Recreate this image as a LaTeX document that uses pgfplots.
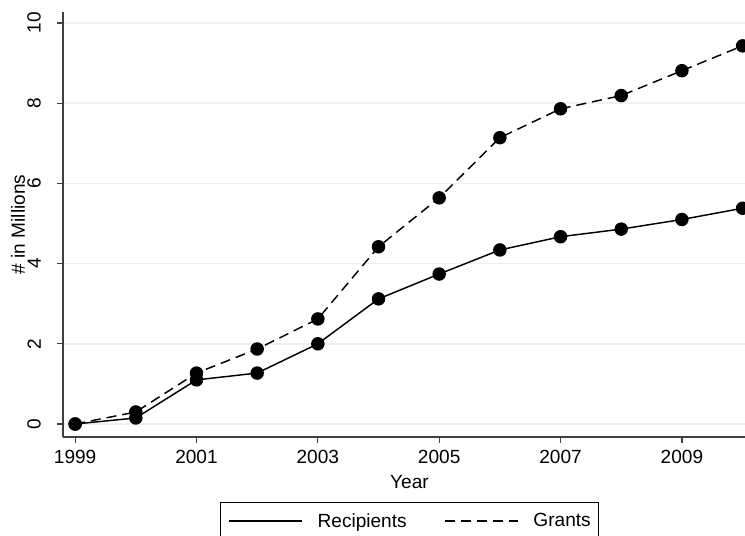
\documentclass[border=0pt]{standalone}
\usepackage{fontspec}
\setmainfont{Liberation Sans}
\usepackage{pgfplots}
\pgfplotsset{compat=1.18}
\definecolor{gridc}{HTML}{EAF2F3}
\definecolor{spine}{HTML}{404040}
\begin{document}
\begin{tikzpicture}[font=\fontsize{14.3pt}{17pt}\selectfont]
\useasboundingbox (0,0) rectangle (558.75pt,401.25pt);
\begin{axis}[
  at={(47.25pt,73.5pt)}, anchor=south west,
  scale only axis, width=511.5pt, height=318.75pt,
  xmin=1998.80, xmax=2010.04, ymin=-0.324, ymax=10.274,
  axis lines=left, axis line style={spine, line width=1.1pt, -},
  xtick={1999,2001,2003,2005,2007,2009},
  ytick={0,2,4,6,8,10},
  x tick label style={/pgf/number format/1000 sep={}},
  /pgf/number format/assume math mode=true,
  tick align=outside, major tick length=4.5pt,
  tick style={spine, line width=0.9pt},
  ymajorgrids, grid style={gridc, line width=1.1pt},
  yticklabel style={rotate=90, anchor=south, inner xsep=0pt, inner ysep=12pt},
  xticklabel style={inner sep=0pt, yshift=-5pt},
  xlabel={Year}, ylabel={\# in Millions},
  xlabel style={at={(axis description cs:0.508,-0.105)}, anchor=center, inner sep=0pt},
  ylabel style={at={(axis description cs:-0.066,0.5)}, anchor=center, inner sep=0pt},
  clip=false,
  legend style={at={(0.508,-0.153)}, anchor=north, draw=black, line width=0.75pt,
    legend columns=2, inner xsep=6pt, inner ysep=6pt,
    nodes={inner xsep=0pt},
    /tikz/every odd column/.append style={column sep=11pt},
    /tikz/every even column/.append style={column sep=28pt}},
  legend image code/.code={\draw[#1] (0pt,0pt) -- (55pt,0pt);},
]
\addplot[black, line width=1.1pt, mark=*, mark size=4.5pt] coordinates {
(1999,0) (2000,0.15) (2001,1.10) (2002,1.27) (2003,2.00) (2004,3.12)
(2005,3.74) (2006,4.34) (2007,4.67) (2008,4.86) (2009,5.10) (2010,5.38)};
\addlegendentry{Recipients}
\addplot[black, line width=1.1pt, dash pattern=on 7.5pt off 4.5pt, mark=*, mark size=4.5pt, mark options={solid}] coordinates {
(1999,0) (2000,0.30) (2001,1.27) (2002,1.87) (2003,2.62) (2004,4.42)
(2005,5.64) (2006,7.14) (2007,7.86) (2008,8.19) (2009,8.81) (2010,9.43)};
\addlegendentry{Grants}
\end{axis}
\end{tikzpicture}
\end{document}
